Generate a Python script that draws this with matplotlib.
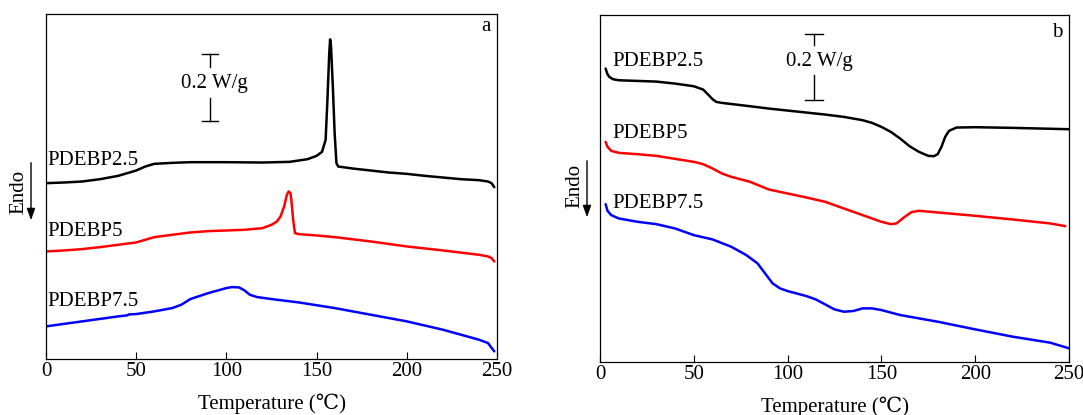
import matplotlib
matplotlib.use("Agg")
import matplotlib.pyplot as plt

plt.rcParams['font.family'] = ['Liberation Serif', 'DejaVu Serif']

# ---------------- Panel a ----------------
a_k_x = [0,10,20,30,40,50,55,60,70,80,100,120,135,145,150,153,155,156,157,157.5,158,159,160,161,162,170,180,190,200,210,220,230,240,245,247,248.5]
a_k_y = [0.528,0.530,0.533,0.540,0.550,0.566,0.578,0.586,0.589,0.591,0.591,0.590,0.592,0.600,0.610,0.622,0.658,0.778,0.918,0.960,0.938,0.818,0.678,0.588,0.578,0.572,0.566,0.560,0.556,0.550,0.545,0.540,0.537,0.533,0.528,0.516]

a_r_x = [0,10,20,30,40,50,60,70,80,90,100,110,120,125,128,130,132,133.5,134.5,135.5,136,137,138,140,150,160,180,200,220,240,245,247,248.5]
a_r_y = [0.323,0.326,0.330,0.336,0.343,0.350,0.366,0.373,0.380,0.384,0.386,0.388,0.393,0.403,0.413,0.428,0.458,0.493,0.503,0.498,0.478,0.418,0.378,0.375,0.371,0.366,0.353,0.338,0.326,0.313,0.308,0.303,0.293]

a_b_x = [0,20,40,45,46,50,60,70,75,80,90,100,103,107,110,113,117,125,140,160,180,200,220,240,245,248.5]
a_b_y = [0.098,0.113,0.128,0.131,0.134,0.135,0.143,0.153,0.163,0.180,0.198,0.213,0.216,0.215,0.206,0.193,0.186,0.180,0.170,0.153,0.133,0.113,0.088,0.058,0.048,0.023]

# ---------------- Panel b ----------------
b_k_x = [3,4,5,7,10,20,30,40,50,55,58,60,62,65,80,90,100,110,120,130,140,145,150,155,160,165,170,175,178,180,182,184,186,190,200,220,250]
b_k_y = [0.881,0.864,0.856,0.849,0.846,0.844,0.842,0.836,0.828,0.818,0.801,0.789,0.781,0.778,0.768,0.761,0.755,0.749,0.743,0.736,0.726,0.718,0.706,0.691,0.671,0.648,0.631,0.619,0.618,0.624,0.646,0.676,0.694,0.704,0.705,0.703,0.699]

b_r_x = [3,4,6,10,20,30,40,50,55,60,65,70,80,90,100,110,120,130,140,150,155,158,162,166,170,180,200,220,240,248]
b_r_y = [0.661,0.646,0.634,0.628,0.624,0.619,0.610,0.601,0.594,0.581,0.566,0.556,0.541,0.518,0.506,0.494,0.481,0.461,0.441,0.421,0.414,0.416,0.434,0.450,0.454,0.449,0.439,0.428,0.416,0.408]

b_b_x = [3,4,6,10,20,30,40,50,60,70,78,84,88,92,96,100,110,115,120,125,130,135,140,145,150,160,180,200,220,240,250]
b_b_y = [0.474,0.454,0.441,0.431,0.421,0.414,0.401,0.381,0.368,0.346,0.321,0.296,0.266,0.236,0.221,0.213,0.198,0.188,0.173,0.158,0.151,0.153,0.161,0.161,0.156,0.141,0.121,0.098,0.076,0.058,0.041]

labels = ["PDEBP2.5", "PDEBP5", "PDEBP7.5"]
colors = ["black", "#ff0000", "#0000ff"]
xticks = [0, 50, 100, 150, 200, 250]

fig = plt.figure(figsize=(10.83, 4.15), dpi=100)
axA = fig.add_axes([0.0425, 0.1349, 0.4164, 0.8314])
axB = fig.add_axes([0.5540, 0.1277, 0.4331, 0.8362])

FS = 15

def style(ax, ylim):
    ax.set_xlim(0, 250)
    ax.set_ylim(*ylim)
    ax.set_xticks(xticks)
    ax.set_xticklabels([str(t) for t in xticks], fontsize=FS)
    ax.set_yticks([])
    ax.tick_params(axis='x', direction='in', length=5, width=0.8, pad=2)
    for s in ax.spines.values():
        s.set_linewidth(0.9)
    ax.set_xlabel("Temperature (\u2103)", fontsize=FS, labelpad=9)

def scalebar(ax, x, y0, gap0, gap1, half):
    y1 = y0 + 0.2
    ax.plot([x, x], [y0, gap0], color='black', lw=1)
    ax.plot([x, x], [gap1, y1], color='black', lw=1)
    ax.plot([x - half, x + half], [y0, y0], color='black', lw=1)
    ax.plot([x - half, x + half], [y1, y1], color='black', lw=1)

# Panel a
style(axA, (0, 1.036))
for xs, ys, c in zip([a_k_x, a_r_x, a_b_x], [a_k_y, a_r_y, a_b_y], colors):
    axA.plot(xs, ys, color=c, lw=1.8, solid_capstyle='round', solid_joinstyle='round')
for lab, yy in zip(labels, [0.596, 0.384, 0.174]):
    axA.text(0.5, yy, lab, fontsize=FS, ha='left', va='center')
scalebar(axA, 91, 0.716, 0.783, 0.878, 4.6)
axA.text(93.5, 0.828, "0.2 W/g", fontsize=FS, ha='center', va='center')
axA.text(0.985, 0.965, "a", transform=axA.transAxes, fontsize=FS, ha='right', va='center')

# Panel b
style(axB, (0, 1.042))
for xs, ys, c in zip([b_k_x, b_r_x, b_b_x], [b_k_y, b_r_y, b_b_y], colors):
    axB.plot(xs, ys, color=c, lw=1.8, solid_capstyle='round', solid_joinstyle='round')
for lab, yy in zip(labels, [0.901, 0.686, 0.476]):
    axB.text(6.5, yy, lab, fontsize=FS, ha='left', va='center')
scalebar(axB, 114, 0.786, 0.861, 0.951, 4.8)
axB.text(117, 0.901, "0.2 W/g", fontsize=FS, ha='center', va='center')
axB.text(0.985, 0.95, "b", transform=axB.transAxes, fontsize=FS, ha='right', va='center')

# Endo labels with arrows (figure pixel coords -> fraction)
W, H = 1083.0, 415.0
def endo(tx, ty, ax_x, ay0, ay1):
    fig.text(tx / W, 1 - ty / H, "Endo", rotation=90, fontsize=FS, ha='center', va='center')
    fig.add_artist(matplotlib.patches.FancyArrowPatch(
        (ax_x / W, 1 - ay0 / H), (ax_x / W, 1 - ay1 / H),
        transform=fig.transFigure, arrowstyle='-|>,head_length=7,head_width=2.5',
        color='black', lw=1, mutation_scale=1))

endo(19, 192, 31, 160, 223)
endo(575, 186, 587, 158, 220)

fig.savefig("out.png", dpi=100)
